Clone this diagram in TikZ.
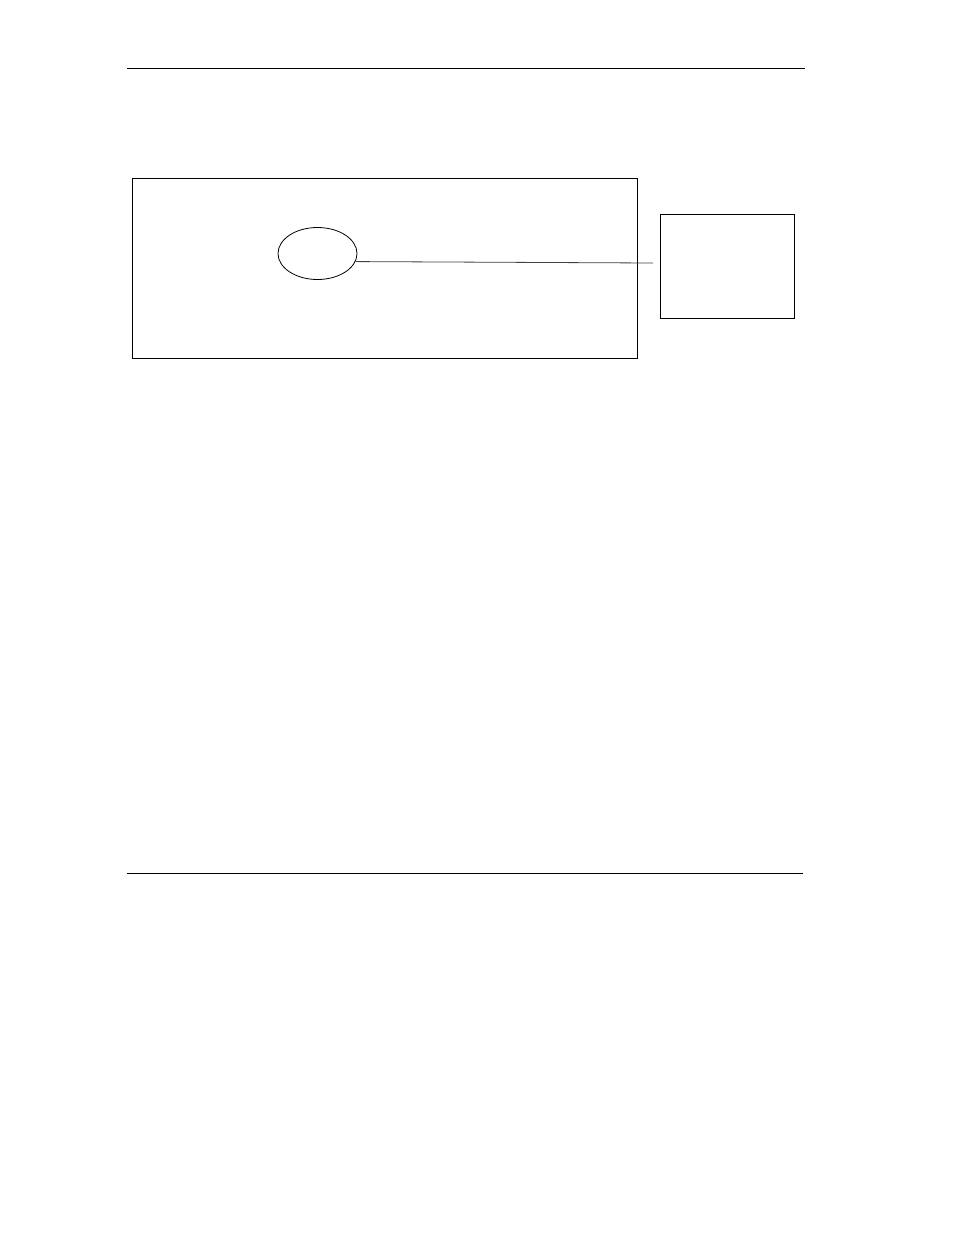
\documentclass[tikz,border=0pt]{standalone}
\usetikzlibrary{shapes.geometric}
\begin{document}
\begin{tikzpicture}[x=1pt,y=-1pt,
  rule/.style={line width=0.9pt},
  frame/.style={draw,line width=1pt,inner sep=0pt},
  link/.style={line width=0.8pt, draw=black!75}]
\useasboundingbox (0,0) rectangle (954,1235);
\draw[rule] (127,68.5) -- (805,68.5);
\draw[rule] (127,873) -- (803,873);
\node[frame, minimum width=505pt, minimum height=180pt] (outer) at (384.5,268) {};
\node[frame, ellipse, minimum width=79pt, minimum height=52pt, line width=0.8pt] (ell) at (317.5,253.5) {};
\node[frame, minimum width=134pt, minimum height=104pt] (box) at (727,266) {};
\coordinate (lend) at (653,263);
\draw[link] (ell.-12) -- (lend);
\end{tikzpicture}
\end{document}
